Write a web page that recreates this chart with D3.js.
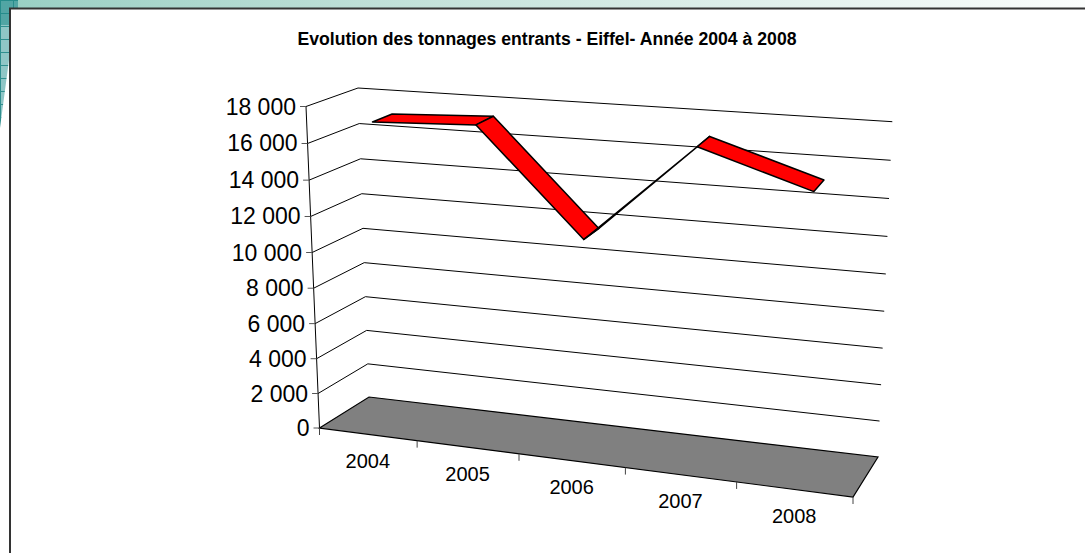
<!DOCTYPE html>
<html>
<head>
<meta charset="utf-8">
<script src="https://cdn.jsdelivr.net/npm/d3@7"></script>
<style>
  html, body { margin: 0; padding: 0; background: #fff; overflow: hidden; }
  text { font-family: "Liberation Sans", Arial, sans-serif; fill: #000; }
</style>
</head>
<body>
<script>
const years = ['2004', '2005', '2006', '2007', '2008'];
const tonnages = [17060, 17320, 11650, 17050, 15210];
const yTicks = [0, 2000, 4000, 6000, 8000, 10000, 12000, 14000, 16000, 18000];
const titleText = 'Evolution des tonnages entrants - Eiffel- Année 2004 à 2008';

const svgW = 1085;
const svgH = 553;

// Corners of the 3D box as seen on screen
const floorFL = [319.5, 428], floorFR = [853, 497], floorBL = [369, 397], floorBR = [878, 457];
const topFL = [306, 106.5], topFR = [871, 150], topBL = [358, 88], topBR = [892.3, 121.7];

const svg = d3.select('body').append('svg')
  .attr('width', svgW)
  .attr('height', svgH);

// Background strip and the grid pattern on the left
const defs = svg.append('defs');
const grad = defs.append('linearGradient').attr('id', 'band');
grad.append('stop').attr('offset', '0%').attr('stop-color', '#98cfc3');
grad.append('stop').attr('offset', '35%').attr('stop-color', '#c0e0d8');
grad.append('stop').attr('offset', '100%').attr('stop-color', '#fbfdfc');

const grid = defs.append('pattern')
  .attr('id', 'cells')
  .attr('patternUnits', 'userSpaceOnUse')
  .attr('width', 13)
  .attr('height', 13);
grid.append('rect').attr('width', 13).attr('height', 13).attr('fill', '#8fc6c6');
grid.append('path').attr('d', 'M0,0.5H13M0.5,0V13').attr('stroke', '#2f8f8f').attr('stroke-width', 1);

svg.append('rect').attr('width', svgW).attr('height', 9).attr('fill', 'url(#band)');
svg.append('path').attr('d', 'M0,0H18V25H9V60L0,128Z').attr('fill', 'url(#cells)');
svg.append('path').attr('d', 'M0,0H18V25H0Z').attr('fill', '#1f8a88').attr('opacity', 0.55);

svg.append('rect')
  .attr('x', 10).attr('y', 9)
  .attr('width', svgW).attr('height', svgH)
  .attr('fill', '#fff');
svg.append('path')
  .attr('d', 'M' + svgW + ',8.5H10V553')
  .attr('fill', 'none')
  .attr('stroke', '#333')
  .attr('stroke-width', 2);

// Value goes up the walls, category goes across, both with a little perspective
const vFrac = d3.scaleLinear().domain([0, 18000]).range([0, 1]);
const catPos = d3.scaleLinear().domain([0, years.length]).range([0, 1]);
const warp = (x, a) => x / (a * (1 - x) + x);
const mix = (a, b, t) => [a[0] + (b[0] - a[0]) * t, a[1] + (b[1] - a[1]) * t];

// cat: position in categories, z: 0 front to 1 back, v: value
const project = (cat, z, v) => {
  const t = warp(catPos(cat), 1.116);
  const f = warp(vFrac(v), 1.04);
  const bottom = mix(mix(floorFL, floorFR, t), mix(floorBL, floorBR, t), z);
  const top = mix(mix(topFL, topFR, t), mix(topBL, topBR, t), z);
  return mix(bottom, top, f);
};

const line = d3.line();

// Gridlines: side wall then back wall
svg.append('g').selectAll('path')
  .data(yTicks.filter(d => d > 0))
  .enter()
  .append('path')
  .attr('d', d => line([project(0, 0, d), project(0, 1, d), project(years.length, 1, d)]))
  .attr('fill', 'none')
  .attr('stroke', '#000')
  .attr('stroke-width', 1);

// Floor
svg.append('path')
  .attr('d', line([project(0, 0, 0), project(0, 1, 0), project(years.length, 1, 0), project(years.length, 0, 0)]) + 'Z')
  .attr('fill', '#808080')
  .attr('stroke', '#000')
  .attr('stroke-width', 1.2);

// Value axis
svg.append('path')
  .attr('d', line([project(0, 0, 0), project(0, 0, 18000)]))
  .attr('stroke', '#000')
  .attr('fill', 'none');

const yAxis = svg.append('g').selectAll('g')
  .data(yTicks)
  .enter()
  .append('g')
  .attr('transform', d => 'translate(' + project(0, 0, d) + ')');

yAxis.append('line')
  .attr('x1', -6)
  .attr('x2', 0)
  .attr('stroke', '#555');

yAxis.append('text')
  .attr('x', -10)
  .attr('y', 8)
  .attr('text-anchor', 'end')
  .attr('font-size', 23)
  .text(d => d3.format(',')(d).replace(',', ' '));

// Category ticks and labels
svg.append('g').selectAll('line')
  .data(d3.range(years.length + 1))
  .enter()
  .append('line')
  .attr('x1', d => project(d, 0, 0)[0])
  .attr('y1', d => project(d, 0, 0)[1])
  .attr('x2', d => project(d, 0, 0)[0])
  .attr('y2', d => project(d, 0, 0)[1] + 7)
  .attr('stroke', '#444');

svg.append('g').selectAll('text')
  .data(years)
  .enter()
  .append('text')
  .attr('x', (d, i) => project(i + 0.5, 0, 0)[0])
  .attr('y', (d, i) => project(i + 0.5, 0, 0)[1] + 33.5)
  .attr('text-anchor', 'middle')
  .attr('font-size', 20)
  .text(d => d);

// Ribbon
const segments = d3.pairs(tonnages.map((v, i) => ({ v, i })));
svg.append('g').selectAll('path')
  .data(segments)
  .enter()
  .append('path')
  .attr('d', ([a, b]) => line([
    project(a.i + 0.5, 0.3, a.v),
    project(b.i + 0.5, 0.3, b.v),
    project(b.i + 0.5, 0.7, b.v),
    project(a.i + 0.5, 0.7, a.v)
  ]) + 'Z')
  .attr('fill', '#ff0000')
  .attr('stroke', '#000')
  .attr('stroke-width', 1.5)
  .attr('stroke-linejoin', 'round');

// Title
svg.append('text')
  .attr('x', 547)
  .attr('y', 45)
  .attr('text-anchor', 'middle')
  .attr('font-size', 18)
  .attr('font-weight', 'bold')
  .attr('textLength', 499)
  .attr('lengthAdjust', 'spacingAndGlyphs')
  .text(titleText);
</script>
</body>
</html>
